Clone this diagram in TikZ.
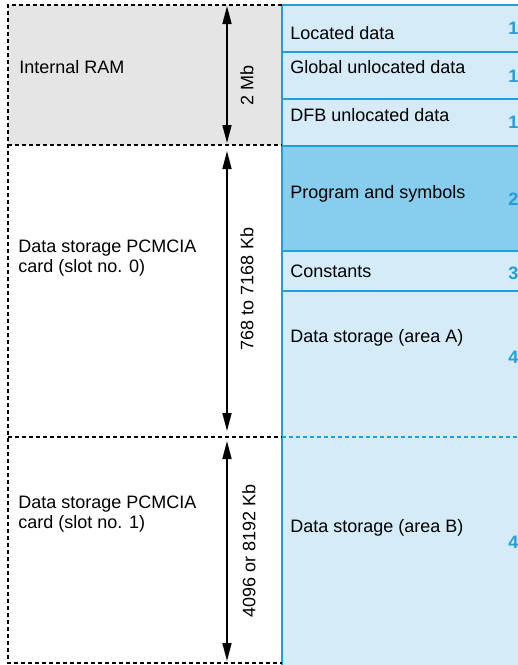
\documentclass[tikz,border=0pt]{standalone}
\usepackage{fontspec}
\setmainfont{Liberation Sans}
\usetikzlibrary{arrows.meta}
\definecolor{memblue}{RGB}{28,160,224}
\definecolor{memlight}{RGB}{213,235,248}
\definecolor{memdark}{RGB}{135,206,238}
\definecolor{memgray}{RGB}{229,229,229}
\begin{document}
\begin{tikzpicture}[x=0.5pt, y=-0.5pt, font=\fontsize{9}{10}\selectfont,
  area/.style={anchor=base west, inner sep=0pt, align=left},
  part/.style={anchor=base west, inner sep=0pt},
  num/.style={anchor=base west, inner sep=0pt, text=memblue, font=\fontsize{9}{10}\selectfont\bfseries},
  size/.style={rotate=90, inner sep=0pt},
  dimarrow/.style={{Triangle[length=9pt,width=4.5pt]}-{Triangle[length=9pt,width=4.5pt]}, line width=0.8pt},
  border/.style={dash pattern=on 2.2pt off 1.3pt, line width=0.6pt},
  sep/.style={memblue, line width=0.8pt}]
\useasboundingbox (0,0) rectangle (518,665);
% fills
\fill[memgray] (8,5) rectangle (282,145);
\fill[memlight] (282,5) rectangle (518,665);
\fill[memdark] (282,146) rectangle (518,251);
% right column
\draw[sep] (282,5) -- (518,5);
\draw[sep] (282,52) -- (518,52);
\draw[sep] (282,99) -- (518,99);
\draw[sep] (282,146) -- (518,146);
\draw[sep] (282,251) -- (518,251);
\draw[sep] (282,291) -- (518,291);
\draw[sep, dash pattern=on 2.2pt off 1.3pt] (282,437) -- (518,437);
\draw[sep] (282,5) -- (282,665);
% left column
\draw[border] (282,5) -- (8,5) -- (8,663) -- (282,663);
\draw[border] (8,145) -- (282,145);
\draw[border] (8,437) -- (282,437);
% sizes
\coordinate (t0) at (227,6);
\coordinate (b0) at (227,143);
\coordinate (t1) at (227,151);
\coordinate (b1) at (227,431);
\coordinate (t2) at (227,441);
\coordinate (b2) at (227,661);
\draw[dimarrow] (t0) -- (b0);
\draw[dimarrow] (t1) -- (b1);
\draw[dimarrow] (t2) -- (b2);
\node[size] (mb) at (247,85) {2 Mb};
\node[size] (kb0) at (247,289) {768 to 7168 Kb};
\node[size] (kb1) at (249,551) {4096 or 8192 Kb};
% memories
\node[area] (ram) at (19,73) {Internal RAM};
\node[area] (slot0) at (18,272) {Data storage PCMCIA\\card (slot no. 0)};
\node[area] (slot1) at (18,528) {Data storage PCMCIA\\card (slot no. 1)};
% contents
\node[part] (loc) at (290,39) {Located data};
\node[part] (glob) at (290,73) {Global unlocated data};
\node[part] (dfb) at (290,121) {DFB unlocated data};
\node[part] (prog) at (290,198) {Program and symbols};
\node[part] (const) at (290,277) {Constants};
\node[part] (areaa) at (290,342) {Data storage (area A)};
\node[part] (areab) at (290,532) {Data storage (area B)};
\node[num] (n1) at (508,34) {1};
\node[num] (n2) at (508,82) {1};
\node[num] (n3) at (508,128) {1};
\node[num] (n4) at (508,205) {2};
\node[num] (n5) at (508,279) {3};
\node[num] (n6) at (508,363) {4};
\node[num] (n7) at (508,548) {4};
\end{tikzpicture}
\end{document}
